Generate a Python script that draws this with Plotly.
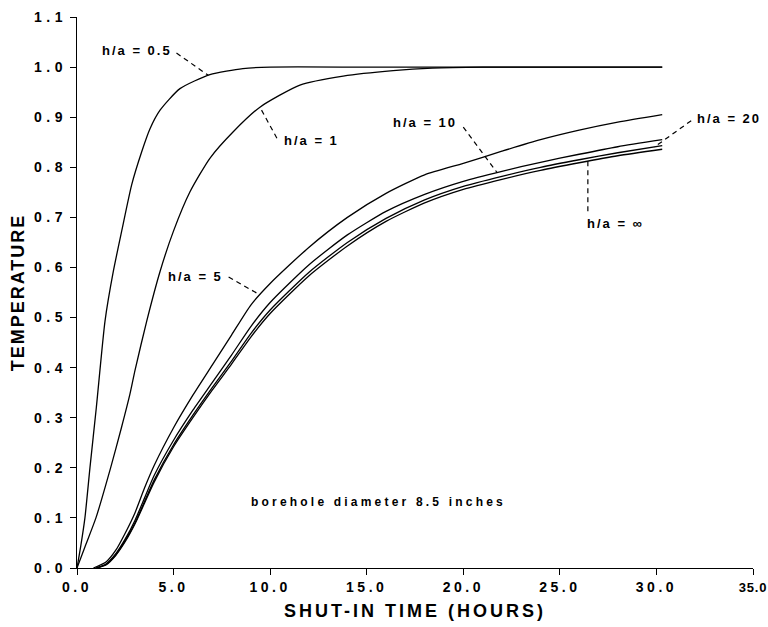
import numpy as np
import plotly.graph_objects as go

# ---------------- data ----------------
t_05 = [0.0, 0.2, 0.41, 0.67, 1.0, 1.45, 1.88, 2.31, 2.83, 3.35, 3.78, 4.3, 5.33, 6.88, 8.59, 10.0, 15.0, 20.0, 25.0, 30.3]
y_05 = [0.0, 0.045, 0.10, 0.20, 0.32, 0.493, 0.592, 0.672, 0.765, 0.831, 0.877, 0.914, 0.957, 0.985, 0.997, 1.0, 1.0, 1.0, 1.0, 1.0]

t_1 = [0.0, 0.41, 0.98, 1.74, 2.3, 2.74, 3.0, 3.61, 4.3, 4.99, 5.85, 6.88, 8.09, 9.47, 11.54, 13.78, 16.37, 18.4, 21.0, 25.0, 30.3]
y_1 = [0.0, 0.042, 0.10, 0.20, 0.28, 0.347, 0.394, 0.493, 0.592, 0.672, 0.751, 0.818, 0.871, 0.920, 0.964, 0.982, 0.993, 0.998, 1.0, 1.0, 1.0]

t_5 = [0.85, 1.5, 2.0, 2.5, 3.0, 3.5, 4.0, 5.0, 6.0, 7.0, 8.0, 9.0, 10.0, 12.0, 14.0, 16.0, 18.0, 20.0, 22.0, 24.0, 26.0, 28.0, 30.3]
y_5 = [0.0, 0.012, 0.035, 0.07, 0.11, 0.16, 0.205, 0.28, 0.345, 0.405, 0.465, 0.525, 0.568, 0.640, 0.700, 0.748, 0.785, 0.808, 0.832, 0.855, 0.874, 0.890, 0.905]

t_low = [1.0, 1.5, 2.0, 2.5, 3.0, 3.5, 4.0, 5.0, 6.0, 7.0, 8.0, 9.0, 10.0, 12.0, 14.0, 16.0, 18.0, 20.0, 22.0, 24.0, 26.0, 28.0, 30.3]
y_10 = [0.0, 0.008, 0.028, 0.058, 0.095, 0.14, 0.185, 0.255, 0.315, 0.37, 0.425, 0.482, 0.53, 0.605, 0.665, 0.712, 0.746, 0.772, 0.792, 0.810, 0.826, 0.841, 0.855]
y_20 = [0.0, 0.007, 0.026, 0.055, 0.09, 0.133, 0.176, 0.246, 0.305, 0.36, 0.413, 0.468, 0.515, 0.59, 0.65, 0.698, 0.735, 0.762, 0.782, 0.800, 0.815, 0.829, 0.843]
y_inf = [0.0, 0.006, 0.025, 0.053, 0.088, 0.13, 0.172, 0.242, 0.30, 0.355, 0.407, 0.461, 0.508, 0.583, 0.643, 0.692, 0.729, 0.756, 0.776, 0.794, 0.809, 0.823, 0.836]

x_ticks = [0, 5, 10, 15, 20, 25, 30, 35]
x_ticktext = ["0.0", "5.0", "10.0", "15.0", "20.0", "25.0", "30.0", "35.0"]
y_ticks = [0.0, 0.1, 0.2, 0.3, 0.4, 0.5, 0.6, 0.7, 0.8, 0.9, 1.0, 1.1]
y_ticktext = ["0.0", "0.1", "0.2", "0.3", "0.4", "0.5", "0.6", "0.7", "0.8", "0.9", "1.0", "1.1"]

series = [
    ("h/a = 0.5", t_05, y_05),
    ("h/a = 1", t_1, y_1),
    ("h/a = 5", t_5, y_5),
    ("h/a = 10", t_low, y_10),
    ("h/a = 20", t_low, y_20),
    ("h/a = ∞", t_low, y_inf),
]

FONT = "Liberation Sans, Arial, sans-serif"


def sp(text, ls, size=None):
    style = "letter-spacing:%spx" % ls
    if size:
        style += ";font-size:%spx" % size
    return "<span style='%s'>%s</span>" % (style, text)


fig = go.Figure()
for name, t, y in series:
    fig.add_trace(go.Scatter(x=t, y=y, mode="lines", name=name,
                             line=dict(color="black", width=1.3, shape="spline", smoothing=0.6),
                             showlegend=False, hoverinfo="x+y+name"))

# label: (text, label x, label y, anchor, pointer start (x,y), target series, target t)
labels = [
    ("h/a = 0.5", 5.0, 1.033, "right", (5.15, 1.028), (t_05, y_05), 6.8),
    ("h/a = 1", 10.6, 0.854, "left", (10.35, 0.858), (t_1, y_1), 9.47),
    ("h/a = 5", 7.65, 0.581, "right", (7.85, 0.581), (t_5, y_5), 9.47),
    ("h/a = 10", 19.8, 0.890, "right", (20.0, 0.880), (t_low, y_10), 21.75),
    ("h/a = 20", 32.0, 0.897, "left", (31.8, 0.893), (t_low, y_20), 29.9),
]
for text, lx, ly, anchor, (sx, sy), (st, sv), tt in labels:
    ty = float(np.interp(tt, st, sv))
    fig.add_shape(type="line", x0=sx, y0=sy, x1=tt, y1=ty, xref="x", yref="y",
                  line=dict(color="black", width=1.2, dash="5px,4px"))
    fig.add_annotation(x=lx, y=ly, xref="x", yref="y", text="<b>" + sp(text, 2) + "</b>",
                       showarrow=False, xanchor=anchor, yanchor="middle",
                       font=dict(family=FONT, size=13, color="black"))

# h/a = infinity (vertical pointer)
t_inf_ptr = 26.45
y_inf_ptr = float(np.interp(t_inf_ptr, t_low, y_inf))
fig.add_shape(type="line", x0=t_inf_ptr, y0=y_inf_ptr, x1=t_inf_ptr, y1=0.705, xref="x", yref="y",
              line=dict(color="black", width=1.2, dash="5px,4px"))
fig.add_annotation(x=t_inf_ptr - 0.15, y=0.687, xref="x", yref="y", text="<b>" + sp("h/a = ∞", 2) + "</b>",
                   showarrow=False, xanchor="left", yanchor="middle",
                   font=dict(family=FONT, size=13, color="black"))

fig.add_annotation(x=15.6, y=0.132, xref="x", yref="y", text="<b>" + sp("borehole diameter 8.5 inches", 3.2) + "</b>",
                   showarrow=False, xanchor="center", yanchor="middle",
                   font=dict(family=FONT, size=12, color="black"))

fig.update_layout(
    width=768, height=627, autosize=False,
    margin=dict(l=77, r=15, t=17, b=59, autoexpand=False),
    paper_bgcolor="white", plot_bgcolor="white",
    font=dict(family=FONT, color="black"),
)
x_labels = ["<b>" + sp(s, 3.5) + "</b>" for s in x_ticktext[:-1]] + ["<b>" + sp(x_ticktext[-1], 0.8, 13) + "</b>"]
fig.update_xaxes(range=[0, 35], tickvals=x_ticks, ticktext=x_labels,
                 ticks="outside", ticklen=6, tickcolor="black", showline=True, linecolor="black", linewidth=1.3,
                 ticklabeloverflow="allow", automargin=False,
                 showgrid=False, zeroline=False, tickfont=dict(family=FONT, size=14, color="black"),
                 title=dict(text="<b>" + sp("SHUT-IN TIME (HOURS)", 3) + "</b>", font=dict(family=FONT, size=18, color="black"), standoff=10))
fig.update_yaxes(range=[0, 1.1], tickvals=y_ticks, ticktext=["<b>" + sp(s, 4.5) + "</b>" for s in y_ticktext],
                 ticks="outside", ticklen=6, tickcolor="black", showline=True, linecolor="black", linewidth=1.3,
                 ticklabeloverflow="allow", automargin=False,
                 showgrid=False, zeroline=False, tickfont=dict(family=FONT, size=14, color="black"),
                 title=dict(text="<b>" + sp("TEMPERATURE", 2) + "</b>", font=dict(family=FONT, size=18, color="black"), standoff=4))

fig.write_html("out.html")
